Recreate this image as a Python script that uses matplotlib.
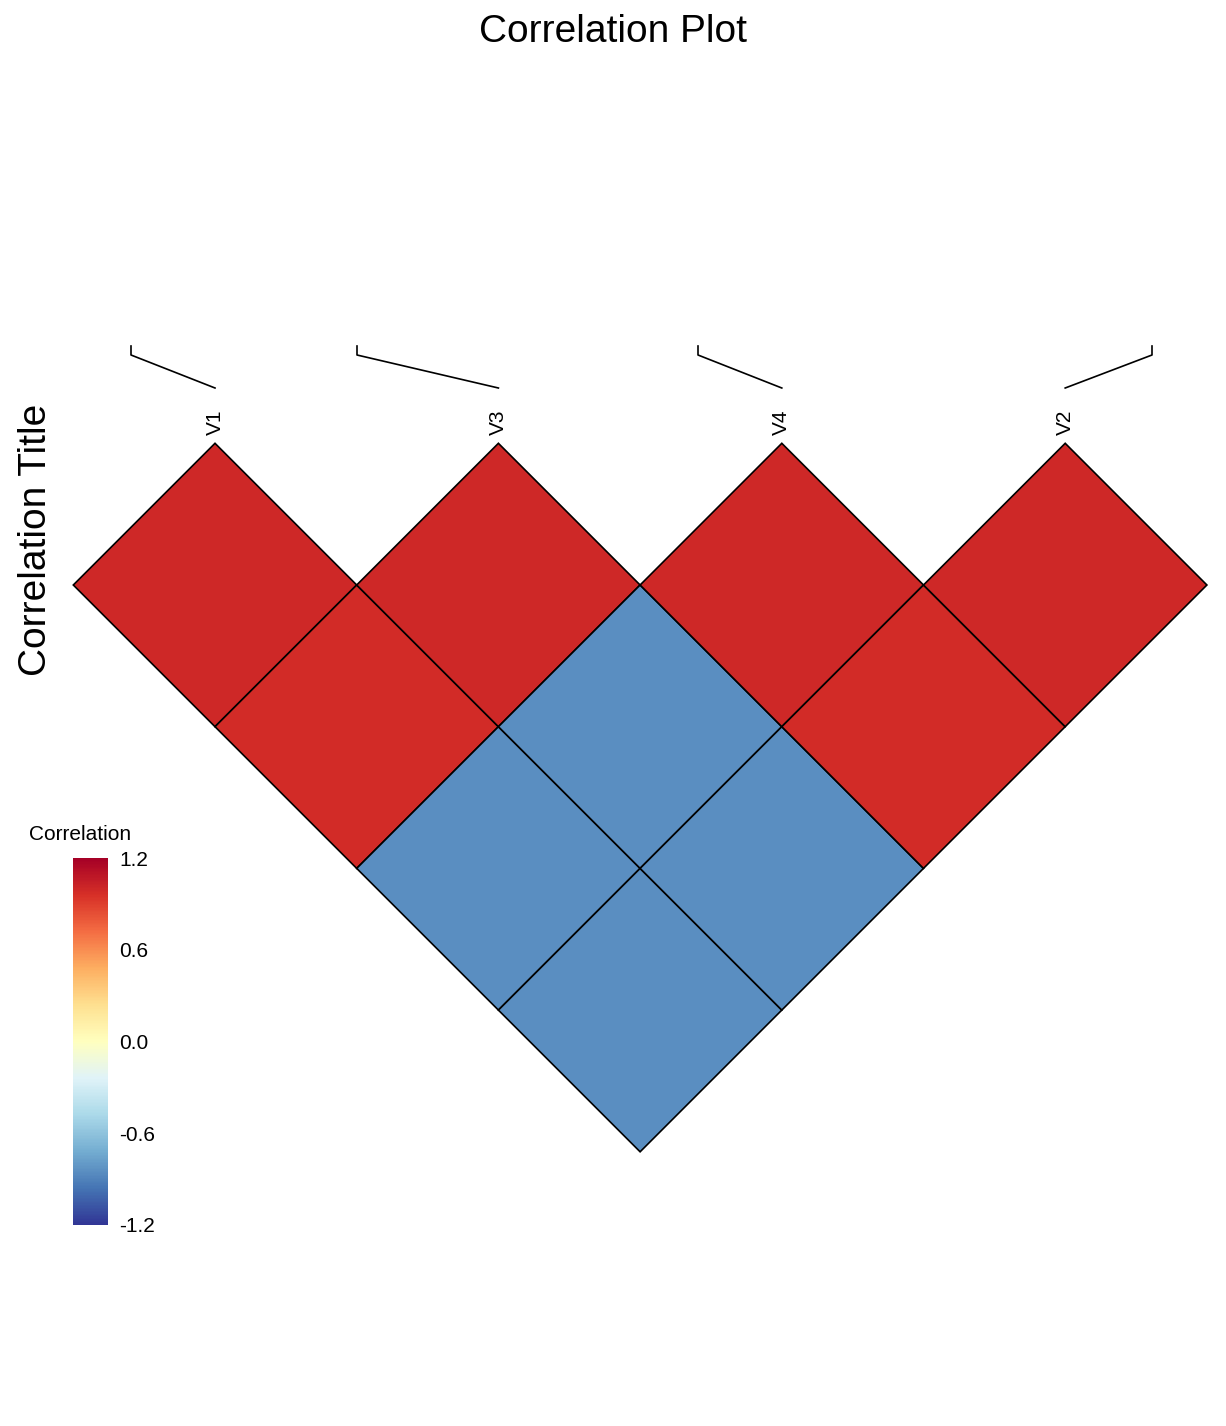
import numpy as np
import matplotlib.pyplot as plt
from matplotlib.patches import Polygon
from matplotlib.colors import Normalize

plt.rcParams['font.family'] = ['Liberation Sans', 'DejaVu Sans']

variables = ['V1', 'V3', 'V4', 'V2']
# lower triangle of correlation matrix (order as displayed)
corr = np.array([
    [1.00, 0.98, -0.85, -0.85],
    [0.98, 1.00, -0.85, -0.85],
    [-0.85, -0.85, 1.00, 0.98],
    [-0.85, -0.85, 0.98, 1.00],
])
anchor_x = [131, 357, 698, 1152]   # where the label leader lines end
cbar_ticks = [1.2, 0.6, 0.0, -0.6, -1.2]

W, H = 1226, 1426
fig = plt.figure(figsize=(W / 100, H / 100), dpi=100)
ax = fig.add_axes([0, 0, 1, 1])
ax.set_xlim(0, W)
ax.set_ylim(H, 0)
ax.axis('off')

cmap = plt.get_cmap('RdYlBu_r')
norm = Normalize(-1.2, 1.2)
h = 141.7          # half-diagonal of a cell
x0, y0 = 215, 585  # center of first diagonal cell
n = len(variables)
for i in range(n):
    for j in range(i, n):
        cx = x0 + (i + j) * h
        cy = y0 + (j - i) * h
        pts = [(cx, cy - h), (cx + h, cy), (cx, cy + h), (cx - h, cy)]
        ax.add_patch(Polygon(pts, closed=True, facecolor=cmap(norm(corr[i, j])),
                             edgecolor='black', lw=1.2))

for k, name in enumerate(variables):
    cx = x0 + 2 * k * h
    ax.text(cx, 435, name, rotation=90, ha='center', va='bottom', fontsize=15)
    ax.plot([cx, anchor_x[k], anchor_x[k]], [388, 355, 346], color='black', lw=1.2)

ax.text(W / 2, 32, 'Correlation Plot', ha='center', va='center', fontsize=28)
ax.text(36, 540, 'Correlation Title', rotation=90, ha='center', va='center', fontsize=28)

cax = fig.add_axes([73 / W, 1 - 1225 / H, 35 / W, 367 / H])
cb = fig.colorbar(plt.cm.ScalarMappable(norm=norm, cmap=cmap), cax=cax)
cb.set_ticks(cbar_ticks)
cb.set_ticklabels([f'{t:.1f}' for t in cbar_ticks])
cb.outline.set_visible(False)
cax.tick_params(length=0, labelsize=15, pad=8)
ax.text(80, 835, 'Correlation', ha='center', va='center', fontsize=15)

fig.savefig('out.png', dpi=100)
